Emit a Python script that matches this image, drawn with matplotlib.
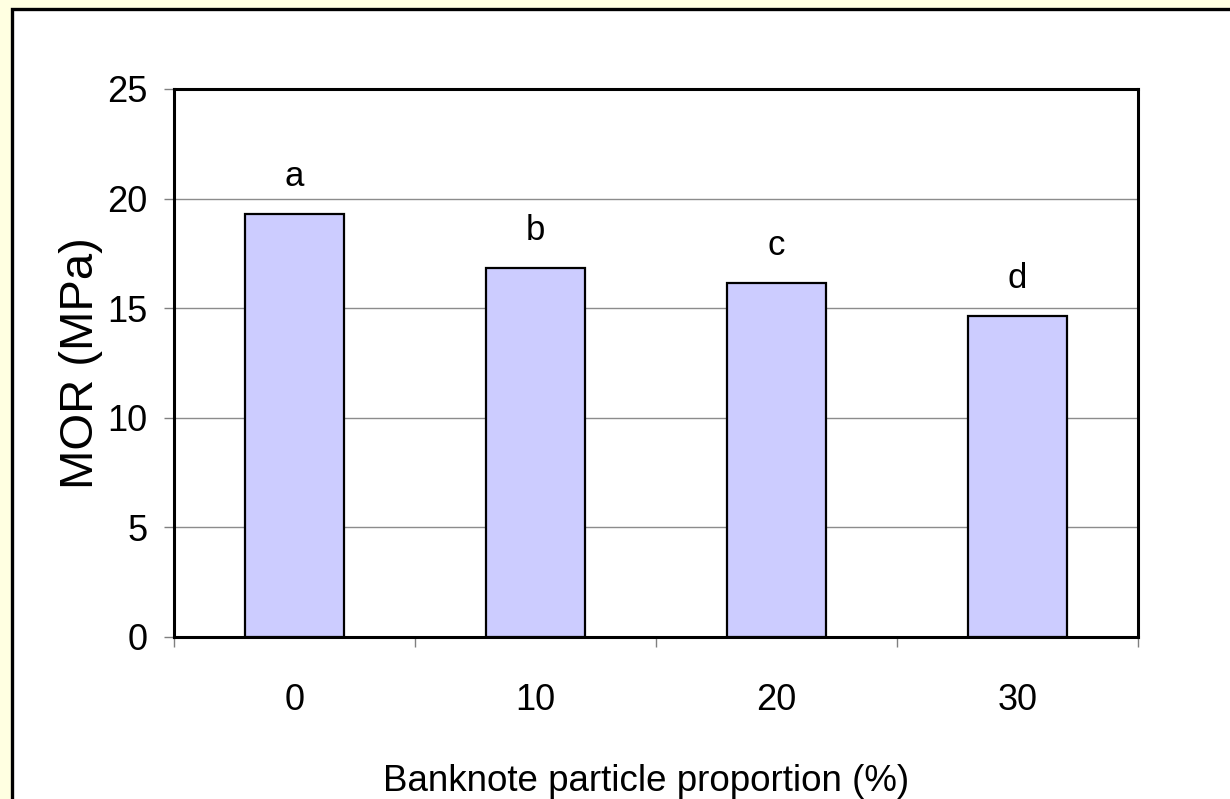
import numpy as np
import matplotlib
matplotlib.use("Agg")
import matplotlib.pyplot as plt
from matplotlib.patches import Rectangle
from matplotlib.ticker import FixedLocator, NullFormatter

plt.rcParams['font.family'] = ['Liberation Sans', 'DejaVu Sans']

# MOR by banknote particle content, with significance letters
proportions = ['0', '10', '20', '30']
mor = [19.3, 16.85, 16.15, 14.65]
letters = ['a', 'b', 'c', 'd']

fig = plt.figure(figsize=(12.3, 7.99), dpi=100)
fig.patch.set_facecolor('#ffffe1')

# white chart frame, runs off the right and bottom edges
frame = Rectangle((12 / 1230, -0.05), 1.2, 1.05 - 8.5 / 799,
                  transform=fig.transFigure, facecolor='white',
                  edgecolor='black', linewidth=2.4, zorder=-10)
fig.patches.append(frame)

ax = fig.add_axes([174 / 1230, 1 - 637 / 799, (1138 - 174) / 1230, (637 - 89) / 799])
ax.set_facecolor('white')

x = np.arange(len(proportions))
ax.bar(x, mor, width=0.41, color='#ccccff', edgecolor='black', linewidth=1.6, zorder=3)

for xi, val, lab in zip(x, mor, letters):
    ax.annotate(lab, (xi, val), xytext=(0, 20), textcoords='offset points',
                ha='center', va='baseline', fontsize=25)

ax.set_xlim(-0.5, 3.5)
ax.set_ylim(0, 25)
ax.set_yticks(np.arange(0, 26, 5))
ax.yaxis.grid(True, color='#8c8c8c', linewidth=1.0, zorder=0)
ax.set_axisbelow(True)

# category boundaries get the tick marks, centres get the labels
ax.xaxis.set_major_locator(FixedLocator(np.arange(-0.5, 4, 1)))
ax.xaxis.set_major_formatter(NullFormatter())
ax.xaxis.set_minor_locator(FixedLocator(x))
ax.set_xticklabels(proportions, minor=True)
ax.tick_params(axis='x', which='major', direction='out', length=7, width=1, color='#808080')
ax.tick_params(axis='x', which='minor', length=0, labelsize=26, pad=33)
ax.tick_params(axis='y', direction='out', length=7, width=1, color='#808080',
               labelsize=26, pad=12)

for s in ax.spines.values():
    s.set_color('black')
    s.set_linewidth(2.2)

ax.set_xlabel('Banknote particle proportion (%)', fontsize=26.5)
ax.xaxis.set_label_coords(0.49, -0.231)
ax.set_ylabel('MOR (MPa)', fontsize=34, labelpad=3)

fig.savefig('out.png', dpi=100, facecolor=fig.get_facecolor())
